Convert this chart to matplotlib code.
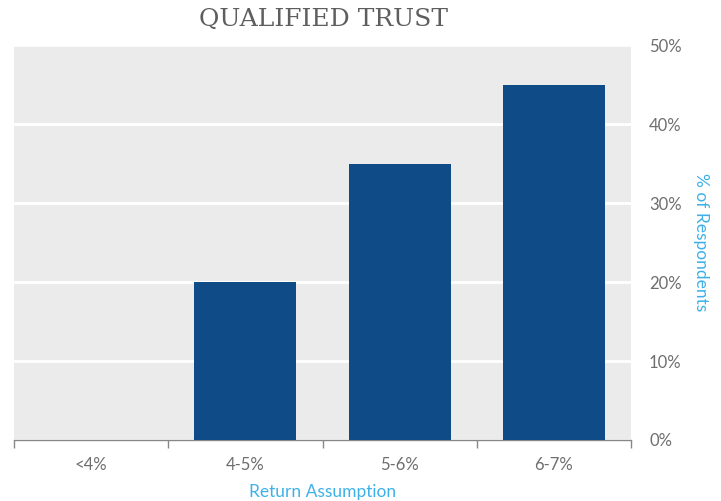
import numpy as np
import matplotlib.pyplot as plt

categories = ["<4%", "4-5%", "5-6%", "6-7%"]
values = [0, 20, 35, 45]
y_ticks = [0, 10, 20, 30, 40, 50]

fig = plt.figure(figsize=(7.21, 5.01), dpi=100)
ax = fig.add_axes([0.0194, 0.1218, 0.8558, 0.7882])
ax.set_facecolor("#EBEBEB")

x = np.arange(len(categories))
ax.bar(x, values, width=0.66, color="#0F4C87", zorder=3)

ax.set_xlim(-0.5, len(categories) - 0.5)
ax.set_ylim(0, 50)
ax.set_yticks(y_ticks)
ax.set_yticklabels([f"{v}%" for v in y_ticks], fontfamily="Lato")
ax.yaxis.tick_right()
ax.yaxis.set_label_position("right")
ax.tick_params(axis="y", length=0, pad=13, labelsize=12, labelcolor="#6E6E6E")

ax.grid(axis="y", color="white", linewidth=2, zorder=1)
ax.set_axisbelow(True)

ax.set_xticks(x)
ax.set_xticklabels(categories, fontfamily="Lato")
ax.tick_params(axis="x", length=0, pad=12, labelsize=12, labelcolor="#6E6E6E")
ax.set_xticks(np.arange(-0.5, len(categories)), minor=True)
ax.tick_params(axis="x", which="minor", length=6, width=1, color="#888888")

for s in ["top", "right", "left"]:
    ax.spines[s].set_visible(False)
ax.spines["bottom"].set_color("#888888")
ax.spines["bottom"].set_linewidth(1)

ax.set_xlabel("Return Assumption", color="#3EB1E8", fontsize=12.5, fontfamily="Lato", labelpad=8)
ax.set_ylabel("% of Respondents", color="#3EB1E8", fontsize=12.5, fontfamily="Lato",
              rotation=270, labelpad=20)

fig.text(0.448, 0.962, "QUALIFIED TRUST", ha="center", va="center", fontsize=18,
         fontfamily="DejaVu Serif", color="#5E5E5E")

fig.savefig("out.png", dpi=100)
